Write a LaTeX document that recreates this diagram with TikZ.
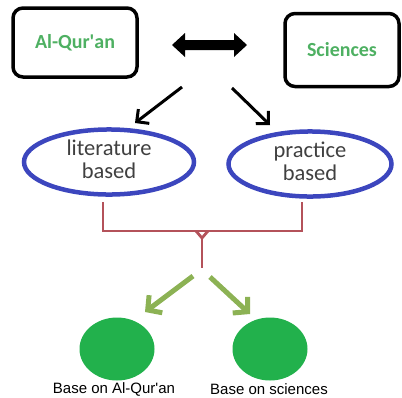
\documentclass[tikz,border=0pt]{standalone}
\usepackage{fontspec}
\setmainfont{Carlito}
\newfontfamily\arialf{Liberation Sans}
\usetikzlibrary{shapes.geometric,arrows.meta}
\definecolor{txtgreen}{RGB}{78,176,98}
\definecolor{ellblue}{RGB}{60,70,190}
\definecolor{dotgreen}{RGB}{34,177,76}
\definecolor{arrgreen}{RGB}{140,178,84}
\definecolor{brred}{RGB}{180,82,90}
\definecolor{graytxt}{RGB}{64,64,64}
\tikzset{
  topbox/.style={draw=black, line width=3.5pt, rounded corners=10pt, font=\bfseries\fontsize{20}{22}\selectfont, text=txtgreen},
  ovalbox/.style={ellipse, draw=ellblue, line width=4.5pt, inner sep=0pt, font=\fontsize{22.5}{23}\selectfont, text=graytxt, align=center},
  dot/.style={ellipse, fill=dotgreen, inner sep=0pt, minimum width=75pt, minimum height=63pt},
  dotlabel/.style={font=\arialf\fontsize{15}{17}\selectfont, text=black, inner sep=0pt},
  blackarrow/.style={draw=black, line width=3pt, -{Straight Barb[length=9pt,width=18pt]}},
  greenarrow/.style={draw=arrgreen, line width=5pt, -{Straight Barb[length=10pt,width=22pt]}},
  bracketline/.style={draw=brred, line width=2.8pt}
}
\begin{document}
\begin{tikzpicture}[x=1pt,y=-1pt]
\useasboundingbox (0,0) rectangle (402,397);
% top boxes
\node[topbox, minimum width=124pt, minimum height=69pt] (quran) at (75,42.5) {Al-Qur\textquotesingle an};
\node[topbox, minimum width=114pt, minimum height=73pt] (sci) at (342,50) {Sciences};
% double arrow
\coordinate (dl) at (172,45);
\coordinate (dr) at (247,45);
\fill[black] (dl) -- ++(13,-12) -- ++(0,7) -- ++(49,0) -- ++(0,-7) -- (dr) -- ++(-13,12) -- ++(0,-7) -- ++(-49,0) -- ++(0,7) -- cycle;
% ellipses
\node[ovalbox, minimum width=170pt, minimum height=47pt] (lit) at (109,162) {\raisebox{3pt}{\begin{tabular}{@{}c@{}}literature\\based\end{tabular}}};
\node[ovalbox, minimum width=163pt, minimum height=50pt] (prac) at (310,164) {\raisebox{4pt}{\begin{tabular}{@{}c@{}}practice\\based\end{tabular}}};
% black arrows
\coordinate (a1s) at (182,87);
\coordinate (a2s) at (232,88);
\draw[blackarrow] (a1s) -- (135,123) coordinate (a1e);
\draw[blackarrow] (a2s) -- (270,125) coordinate (a2e);
% bracket
\coordinate (bl) at (103,202);
\coordinate (br) at (302,202);
\coordinate (bm) at (202,231);
\coordinate (bs) at (202,268);
\draw[bracketline] (bl) |- (bm) -| (br);
\draw[bracketline] (196,231) -- (202,238) -- (208,231);
\draw[bracketline] (202,237) -- (bs);
% green arrows
\coordinate (g1s) at (193,276);
\coordinate (g2s) at (210,277);
\draw[greenarrow] (g1s) -- (145,312);
\draw[greenarrow] (g2s) -- (250,314);
% circles
\node[dot] (c1) at (117,349) {};
\node[dot] (c2) at (270,349) {};
\node[dotlabel] (l1) at (114,389) {Base on Al-Qur\textquotesingle an};
\node[dotlabel] (l2) at (269,389) {Base on sciences};
\end{tikzpicture}
\end{document}
